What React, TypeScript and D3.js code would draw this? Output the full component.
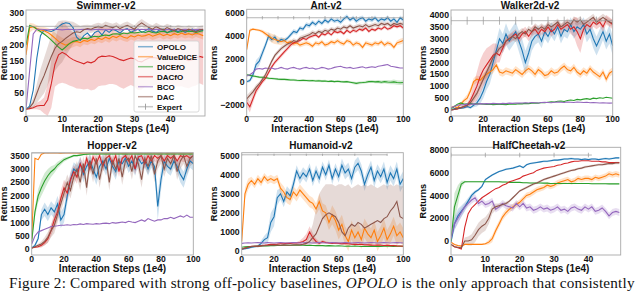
import React from 'react';
import * as d3 from 'd3';

const methods = ['OPOLO', 'ValueDICE', 'DICEfO', 'DACfO', 'BCO', 'DAC'];
const colors = ['#1f77b4', '#ff7f0e', '#2ca02c', '#d62728', '#9467bd', '#8c564b'];

// x grids (1e4 interaction steps)
const steps50 = d3.range(0, 50);
const steps100 = d3.range(0, 101, 2);

// ---- Swimmer-v2
const swimmerOPOLO = [0,10,60,160,230,248,245,243,248,258, 266,270,268,255,225,215,230,238,225,240, 245,232,248,240,250,245,238,248,252,240, 246,250,240,245,252,244,240,248,250,238, 245,250,242,248,240,246,250,244,248,246];
const swimmerValueDICE = [170,255,258,252,248,245,240,232,222,212, 205,200,205,210,212,208,215,212,218,215, 222,218,225,220,228,224,230,225,222,230, 226,232,228,230,234,228,232,236,230,234, 230,236,232,238,233,236,232,238,234,230];
const swimmerValueDICEStd = [20,15,10,10,10,12,14,16,18,18, 18,18,16,16,14,14,12,12,12,12, 12,12,12,12,12,12,12,12,12,12, 12,12,12,12,12,12,12,12,12,12, 12,12,12,12,12,12,12,12,12,12];
const swimmerDICEfO = [200,262,258,250,243,235,226,216,205,194, 185,195,205,212,215,218,222,220,225,228, 226,230,232,230,235,236,234,238,236,240, 238,240,242,240,244,240,238,242,244,240, 242,245,240,243,246,242,244,240,243,245];
const swimmerDACfO = [0,2,5,10,12,12,30,80,140,170, 178,172,162,155,150,146,142,148,145,150, 162,166,165,167,165,160,155,152,156,160, 158,150,148,155,160,162,160,158,162,166, 165,160,155,158,156,152,155,160,165,162];
const swimmerDACfOStd = [0,2,5,10,15,25,50,75,70,90, 95,92,88,85,85,82,80,84,86,88, 90,92,90,88,86,84,86,88,86,84, 88,90,86,84,86,88,84,86,88,84, 86,88,84,86,88,86,84,86,84,86];
const swimmerBCO = [0,120,235,250,250,249,248,249,250,249, 248,249,250,249,248,249,250,249,248,249, 250,249,248,249,250,249,248,249,250,249, 248,249,250,249,248,249,250,249,248,249, 250,249,248,249,250,249,248,249,250,249];
const swimmerDAC = [0,5,20,50,80,105,135,165,190,205, 212,222,230,238,242,240,248,252,250,255, 258,255,262,258,255,260,252,258,262,256, 250,262,270,262,255,250,258,252,248,255, 250,245,252,248,244,250,246,242,248,250];
const swimmerDACStd = [0,5,15,30,45,55,60,65,70,70, 65,55,45,35,25,20,15,12,12,12, 12,12,12,12,12,12,12,12,12,12, 12,12,12,12,12,12,12,12,12,12, 12,12,12,12,12,12,12,12,12,12];

// ---- Ant-v2
const antOPOLO = [0,100,600,1500,1800,2500,3200,4000,3700,3900, 3500,3700,3600,3800,4100,4400,4300,4700,4600,5000, 4900,5200,5000,5300,5100,5400,5200,5500,5300,5400, 5200,5500,5700,5400,5600,5300,5500,5600,5300,5500, 5400,5600,5300,5500,5400,5600,5300,5500,5200,5600, 5400];
const antOPOLOStd = [100,150,300,400,400,350,300,300,250,250, 200,220,200,180,200,220,200,200,180,200, 220,200,200,180,200,220,200,200,180,200, 220,200,200,180,200,220,200,200,180,200, 220,200,200,180,200,220,200,200,180,200, 200];
const antValueDICE = [2800,4500,4600,4550,4500,4400,4200,4000,3800,3700, 3600,3500,3600,3400,3500,3300,3400,3200,3300,3400, 3300,3100,3400,3300,3500,3200,3300,3500,3400,3600, 3400,3300,3600,3500,3200,3400,3300,3000,3400,3300, 3200,3400,3300,3500,3200,3400,3300,3000,3400,3500, 3600];
const antValueDICEStd = [200,150,100,100,100,150,200,300,400,400, 350,300,250,200,200,200,200,200,200,200, 200,200,200,200,200,200,200,200,200,200, 200,200,200,200,200,200,200,200,200,200, 200,200,200,200,200,200,200,200,200,250, 250];
const antDICEfO = [600,550,500,450,400,380,350,300,280,250, 220,200,200,180,150,150,120,100,120,100, 80,100,60,80,50,60,20,50,0,30, 0,-20,0,-50,-100,-150,-100,-80,-50,0, 20,-20,0,-50,0,-30,-50,-20,-80,-100, -80];
const antDICEfOStd = [100,100,100,100,100,100,100,100,100,100, 100,100,100,100,100,100,100,100,100,100, 100,100,100,100,100,100,100,100,100,100, 100,100,100,100,120,120,120,120,120,120, 120,120,150,150,150,180,180,200,200,200, 200];
const antDACfO = [-1800,-2200,-1500,-800,-400,0,300,800,1300,1700, 2000,2300,2600,2900,3200,3400,3500,3600,3800,3700, 3900,4000,4100,3900,4200,4100,4300,4100,4400,4300, 4400,4200,4500,4300,4500,4400,4600,4500,4700,4400, 4600,4500,4700,4600,4800,4600,4700,4900,4800,4900, 4700];
const antDACfOStd = [400,500,400,300,250,200,200,200,200,200, 200,200,200,200,200,150,150,150,150,150, 150,150,150,150,150,150,150,150,150,150, 150,150,150,150,150,150,150,150,150,150, 150,150,150,150,150,150,150,150,150,150, 150];
const antBCO = [500,600,800,1100,1150,1100,1200,1150,1200,1100, 1150,1250,1150,1100,1200,1250,1150,1100,1200,1250, 1150,1200,1100,1150,1250,1200,1100,1150,1250,1300, 1350,1250,1200,1250,1150,1200,1250,1300,1200,1250, 1300,1250,1350,1400,1450,1500,1350,1300,1250,1200, 1200];
const antDAC = [-1500,-1200,-900,-500,-200,200,600,1200,1800,2300, 2600,2900,3100,3300,3400,3600,3500,3800,3900,4000, 4100,4300,4200,4400,4300,4500,4400,4600,4500,4700, 4600,4800,4700,4900,4700,4800,4900,4800,5000,4800, 4900,5000,4900,5100,5000,5100,4900,5100,5000,5100, 5000];
const antDACStd = [300,300,250,250,200,200,200,200,200,200, 200,200,200,200,200,200,200,200,200,200, 200,200,200,200,200,200,200,200,200,200, 200,200,200,200,200,200,200,200,200,200, 200,200,200,200,200,200,200,200,200,200, 200];

// ---- Walker2d-v2
const walkerOPOLO = [0,50,100,80,100,150,100,200,300,500, 800,1200,1500,2000,2500,3000,2800,3200,2900,3100, 3300,2900,2500,2000,2400,2900,3100,3200,2900,3300, 3100,3400,3200,3500,3100,3400,3300,3600,3300,3500, 3400,3600,3200,3400,3000,2700,3000,3300,2900,3200, 2700];
const walkerOPOLOStd = [20,30,40,40,50,60,60,80,150,250, 300,350,400,400,400,450,400,450,400,400, 400,450,500,500,450,400,350,350,300,300, 300,300,300,300,300,300,300,300,300,300, 300,300,350,350,400,400,400,350,350,400, 400];
const walkerValueDICE = [100,150,100,250,400,500,800,1200,1300,1250, 1400,1500,1600,1700,1900,1600,1550,1650,1600,1550, 1700,1600,1500,1650,1750,1650,1500,1700,1600,1450, 1500,1650,1550,1600,1750,1850,1700,1650,1800,1600, 1500,1650,1550,1750,1600,1500,1400,1600,1300,1550, 1650];
const walkerValueDICEStd = [50,50,50,80,100,150,150,150,150,150, 150,150,150,150,150,150,150,150,150,150, 150,150,150,150,150,150,150,150,150,150, 150,150,150,150,150,150,150,150,150,150, 150,150,150,150,150,150,150,150,150,150, 150];
const walkerDICEfO = [50,150,250,300,250,250,280,250,270,260, 250,240,250,230,240,250,240,230,250,260, 250,270,260,280,270,290,300,290,320,310, 330,350,340,370,380,360,400,420,400,450, 430,460,480,450,500,480,520,500,540,520, 500];
const walkerDACfO = [0,20,50,100,150,200,400,700,1000,1400, 1700,1900,2100,2300,2400,2300,2600,2900,3000,3100, 3200,3000,3200,3300,3100,3300,3400,3200,3400,3300, 3500,3300,3400,3600,3400,3500,3600,3400,3500,3300, 3000,3400,3600,3500,3700,3600,3700,3500,3800,3700, 3600];
const walkerDACfOStd = [0,10,20,40,60,100,200,400,600,700, 700,700,600,500,400,300,200,200,200,200, 200,200,200,200,200,200,200,200,200,200, 200,200,200,200,200,200,200,200,400,600, 600,400,200,200,200,200,200,200,200,200, 200];
const walkerBCO = [100,150,200,220,230,250,240,260,250,270, 260,270,260,280,270,260,280,270,290,280, 300,290,300,310,300,320,310,300,320,330, 320,310,330,340,330,320,340,330,320,340, 330,320,330,310,320,310,300,310,300,290, 300];
const walkerDAC = [0,30,60,100,150,200,300,500,700,1000, 1300,1600,1900,2200,2400,2600,2700,2900,3000,3100, 3000,3200,3300,3200,3400,3300,3500,3400,3500,3400, 3600,3500,3600,3700,3500,3600,3700,3600,3800,3700, 3800,3600,3700,3800,3900,3700,3800,3900,3800,3700, 3650];
const walkerDACStd = [20,30,40,60,80,100,150,150,150,150, 150,150,150,150,150,150,150,150,150,150, 150,150,150,150,150,150,150,150,150,150, 150,150,150,150,150,150,150,150,150,150, 150,150,150,150,150,150,150,150,150,150, 150];

// ---- Hopper-v2
const hopperOPOLO = [50,150,400,1300,1500,1300,1550,1400,1700,1100, 1300,2000,2600,3000,2900,3200,2800,3100,3300,3000, 2700,3100,3300,3000,3400,3100,2900,3300,3200,3400, 3100,3300,3000,3400,3200,3300,3000,3300,3100,1600, 2600,3300,3100,3000,3300,3100,2800,2600,3000,3300, 3200];
const hopperOPOLOStd = [20,50,100,200,250,250,250,250,300,300, 300,300,300,250,250,250,300,250,250,250, 300,250,250,250,250,250,300,250,250,250, 250,250,250,250,250,250,250,250,300,500, 400,250,250,250,250,250,300,300,300,250, 250];
const hopperValueDICE = [400,3400,3350,3550,3600,3600,3600,3610,3600,3590, 3600,3600,3610,3600,3600,3590,3600,3600,3610,3600, 3600,3600,3590,3600,3610,3600,3600,3600,3590,3600, 3600,3610,3600,3600,3600,3590,3600,3600,3610,3600, 3600,3600,3590,3600,3600,3610,3600,3600,3600,3590, 3600];
const hopperDICEfO = [300,1400,2000,2300,2550,2750,2900,3000,3150,3250, 3350,3400,3450,3500,3500,3520,3540,3550,3560,3560, 3560,3560,3560,3560,3560,3560,3560,3560,3560,3560, 3560,3560,3560,3560,3560,3560,3560,3560,3560,3560, 3560,3560,3560,3560,3560,3560,3560,3560,3560,3560, 3560];
const hopperDICEfOStd = [50,200,250,300,300,250,200,150,120,100, 80,60,50,40,30,30,30,30,30,30, 30,30,30,30,30,30,30,30,30,30, 30,30,30,30,30,30,30,30,30,30, 30,30,30,30,30,30,30,30,30,30, 30];
const hopperDACfO = [50,80,100,150,250,400,700,1100,1400,1900, 2300,2100,2600,2900,2700,3200,2900,3400,3000,3450, 3200,3500,3100,3400,3500,3200,3500,2900,3400,3500, 3300,3500,3000,3450,3500,3200,3500,3300,3500,3400, 3500,3300,3500,3400,3500,3300,3500,3450,3500,3400, 3500];
const hopperDACfOStd = [20,30,50,80,100,150,200,300,300,300, 300,300,250,250,250,250,250,200,200,200, 200,200,200,200,200,200,200,200,200,200, 200,200,200,200,200,200,200,200,200,200, 200,200,200,200,200,200,200,200,200,200, 200];
const hopperBCO = [200,500,650,700,750,800,850,870,880,900, 900,920,900,930,920,950,930,960,950,940, 960,950,970,980,960,1000,980,1000,1020,1000, 1050,1020,1000,1050,1100,1050,1150,1100,1050,1100, 1100,1150,1150,1200,1150,1200,1250,1200,1280,1200, 1200];
const hopperDAC = [50,100,150,200,300,450,700,900,1300,1700, 2100,2500,2200,2700,3000,2500,3200,2300,3300,2800, 3400,2600,3200,3400,2500,3300,3000,3400,2700,3300, 3400,2900,3500,3200,2600,3400,3100,3500,2800,3300, 3500,3000,3400,3200,3500,2900,3300,3500,3100,3400, 3500];
const hopperDACStd = [20,40,60,100,150,200,250,300,300,300, 300,300,300,300,300,300,300,300,300,300, 300,300,300,300,300,300,300,300,300,300, 300,300,300,300,300,300,300,300,300,300, 300,300,300,300,300,300,300,300,300,300, 300];

// ---- Humanoid-v2
const humanoidOPOLO = [100,120,150,200,230,250,400,600,700,1500, 1800,2800,3000,2600,3100,2900,3500,4200,3800,4100, 3900,4300,3700,4200,3800,4400,4000,4500,3800,4300, 3900,4500,4100,4300,3800,4400,4600,4200,3500,4000, 4400,3700,4200,3900,4300,3600,4100,3800,4300,3500, 3800];
const humanoidOPOLOStd = [50,50,50,50,50,80,150,200,300,500, 500,400,300,300,300,300,300,300,300,300, 300,300,300,300,300,300,300,300,300,300, 300,350,350,350,350,350,350,350,350,350, 350,350,350,350,400,400,400,400,400,400, 400];
const humanoidValueDICE = [500,3000,3500,3700,3500,3800,3600,3900,3700,3800, 3700,3800,3300,3100,2800,2700,3100,2900,3200,3000, 2800,2600,2500,2200,2600,2100,2000,1500,1900,1600, 1100,1400,800,500,1100,700,1000,600,1200,900, 700,1100,500,800,1200,600,900,1300,800,1000, 700];
const humanoidValueDICEStd = [100,300,300,200,200,200,200,200,200,200, 200,200,300,300,300,300,300,300,300,300, 300,300,300,300,400,400,400,400,500,500, 500,500,500,500,500,500,500,500,500,500, 500,500,500,500,500,500,500,500,500,500, 500];
const humanoidDICEfO = [200,220,230,240,250,250,260,270,270,280, 280,290,290,300,300,300,300,310,300,300, 290,300,290,280,290,280,270,280,270,260, 270,260,250,260,250,260,250,240,250,240, 250,240,250,240,250,260,250,240,250,250, 250];
const humanoidDACfO = [100,150,200,250,250,250,280,300,320,350, 350,360,380,380,400,400,420,420,450,500, 600,1000,700,500,400,500,450,420,400,420, 400,380,400,380,360,350,340,350,330,320, 310,300,310,300,290,300,280,290,270,260, 250];
const humanoidDACfOStd = [30,30,30,30,30,30,30,30,30,40, 40,40,40,40,50,50,50,50,100,200, 300,300,250,150,100,80,60,50,50,50, 50,50,50,50,50,50,50,50,50,50, 50,50,50,50,50,50,50,50,50,50, 50];
const humanoidBCO = [400,420,430,420,430,440,430,420,440,430, 420,430,440,430,420,430,440,430,420,430, 440,430,420,430,440,430,420,430,440,430, 420,430,440,430,420,430,440,430,420,430, 440,430,420,430,440,430,420,430,440,430, 420];
const humanoidDAC = [100,150,200,230,250,260,270,280,290,300, 300,310,300,320,310,300,320,330,320,350, 400,500,700,900,1300,1700,1900,2000,1900,1800, 1500,1000,800,1200,1400,1300,1500,1400,1200,1300, 1400,1500,1600,1500,1700,1800,2100,2300,2600,1800, 1700];
const humanoidDACLow = [80,130,180,210,230,240,250,260,270,280, 280,290,280,300,290,280,300,310,300,320, 300,300,350,400,400,400,450,400,400,350, 350,300,350,400,350,300,350,400,350,300, 350,400,350,300,350,400,450,400,350,400, 400];
const humanoidDACHigh = [120,170,220,250,270,280,290,300,310,320, 320,330,320,340,330,320,340,350,340,380, 500,900,1400,2200,3000,3300,3500,3500,3500,3400, 3500,3500,3400,3500,3300,3400,3500,3400,3500,3400, 3500,3400,3300,3400,3500,3400,3500,3400,3500,3400, 3400];

// ---- HalfCheetah-v2
const cheetahOPOLO = [-100,1500,2200,2600,3000,3500,4000,4300,4500,4800, 5400,5600,5800,5950,6100,6200,6300,6350,6400,6500, 6600,6450,6700,6800,6850,6900,6950,7000,7000,7050, 7100,7100,7150,7200,7200,7250,7200,7200,7150,7200, 7150,7200,7200,7150,7200,7250,7200,7250,7300,7300];
const cheetahOPOLOStd = [100,600,600,500,400,300,200,150,100,100, 100,80,80,80,80,80,80,80,80,80, 80,80,80,80,80,80,80,80,80,80, 80,80,80,80,80,80,80,80,80,80, 80,80,80,80,80,80,80,80,80,80];
const cheetahValueDICE = [-100,-300,-400,-450,-300,-300,-300,-300,-300,-300, -250,-100,200,900,1500,2100,2500,2800,3000,3200, 3400,3700,4000,4100,4300,4500,4600,4700,4900,4800, 4900,5100,5200,5300,5400,5200,5300,5500,5400,5500, 5500,5400,5600,5500,5600,5700,5900,5800,5900,5800];
const cheetahValueDICEStd = [50,50,50,50,50,50,50,50,50,50, 100,200,300,300,300,300,300,300,250,250, 250,250,250,250,250,250,250,250,250,250, 250,250,250,250,250,250,250,250,250,250, 250,250,250,250,250,250,250,250,250,250];
const cheetahDICEfO = [0,3000,4000,5000,5200,5200,5200,5200,5200,5200, 5200,5200,5200,5200,5200,5180,5180,5150,5150,5150, 5150,5120,5120,5100,5100,5100,5100,5080,5080,5050, 5050,5050,5050,5050,5050,5050,5050,5050,5050,5050, 5050,5030,5030,5030,5030,5030,5020,5020,5020,5020];
const cheetahDICEfOStd = [300,1200,900,300,100,50,40,40,40,40, 40,40,40,40,40,40,40,40,40,40, 40,40,40,40,40,40,40,40,40,40, 40,40,40,40,40,40,40,40,40,40, 40,40,40,40,40,40,40,40,40,40];
const cheetahDACfO = [-300,-500,-600,-700,1200,2400,2900,3200,3500,3800, 4000,4200,4400,4600,4700,4900,5000,5200,5300,5400, 5500,5700,5800,5900,6000,6200,6300,6400,6450,6500, 6550,6650,6700,6800,6850,6950,7000,7000,7050,7050, 7050,7000,7000,7000,6950,6950,6900,6900,6900,6900];
const cheetahBCO = [200,1500,2000,2500,3000,3300,3600,3800,3300,3500, 3200,3300,3500,2800,3000,3300,3100,3000,2900,3300, 3000,3300,2900,3000,2700,2800,3000,2800,2900,2700, 2800,3000,2700,2800,2600,2900,3000,2800,2700,3000, 2800,3000,2600,2700,2900,2600,2200,2500,2600,2500];
const cheetahBCOStd = [100,500,500,400,300,300,300,300,300,300, 300,300,300,300,300,300,300,300,300,300, 300,300,300,300,300,300,300,300,300,300, 300,300,300,300,300,300,300,300,300,300, 300,300,300,300,300,300,300,300,300,300];
const cheetahDAC = [-300,-500,-550,-600,0,0,100,500,1000,1300, 1500,2000,2800,3000,3100,3200,3300,3500,3800,4100, 4400,4550,4700,4850,5000,5100,5250,5400,5500,5600, 5700,5800,5900,6000,6100,6200,6250,6350,6400,6500, 6550,6600,6650,6700,6700,6750,6800,6800,6850,6850];
const cheetahDACStd = [50,50,50,100,300,400,500,600,600,600, 600,500,400,300,200,150,150,120,100,100, 100,100,100,100,100,100,100,100,100,100, 100,100,100,100,100,100,100,100,100,100, 100,100,100,100,100,100,100,100,100,100];

// expert returns per task
const expertReturn = [259, 5600, 3760, 3600, 5050, 7550];
const expertErr = [3, 150, 170, 10, 60, 200];

type Band = number[] | { lo: number[]; hi: number[] } | null;

interface Panel {
  title: string;
  steps: number[];
  series: number[][];
  bands: Band[];
  expertIdx: number;
  expertEnd: number;
  xDomain: [number, number];
  yDomain: [number, number];
  xTicks: number[];
  yTicks: number[];
  l: number; r: number; t: number; b: number;
  titleX: number; titleY: number; tickY: number; labelY: number; ylabelX: number;
}

const panels: Panel[] = [
  {
    title: 'Swimmer-v2', steps: steps50,
    series: [swimmerOPOLO, swimmerValueDICE, swimmerDICEfO, swimmerDACfO, swimmerBCO, swimmerDAC],
    bands: [null, swimmerValueDICEStd, null, swimmerDACfOStd, null, swimmerDACStd],
    expertIdx: 0, expertEnd: 49,
    xDomain: [0, 49.5], yDomain: [-21, 310], xTicks: [0, 10, 20, 30, 40], yTicks: [0, 50, 100, 150, 200, 250, 300],
    l: 26, r: 205, t: 10, b: 116, titleX: 106, titleY: 9, tickY: 122, labelY: 132.3, ylabelX: 4,
  },
  {
    title: 'Ant-v2', steps: steps100,
    series: [antOPOLO, antValueDICE, antDICEfO, antDACfO, antBCO, antDAC],
    bands: [antOPOLOStd, antValueDICEStd, antDICEfOStd, antDACfOStd, null, antDACStd],
    expertIdx: 1, expertEnd: 100,
    xDomain: [0, 100], yDomain: [-3070, 6340], xTicks: [0, 20, 40, 60, 80, 100], yTicks: [-2000, 0, 2000, 4000, 6000],
    l: 246.7, r: 403.3, t: 9.3, b: 116.7, titleX: 326, titleY: 9, tickY: 122, labelY: 132.3, ylabelX: 213.5,
  },
  {
    title: 'Walker2d-v2', steps: steps100,
    series: [walkerOPOLO, walkerValueDICE, walkerDICEfO, walkerDACfO, walkerBCO, walkerDAC],
    bands: [walkerOPOLOStd, walkerValueDICEStd, null, walkerDACfOStd, null, walkerDACStd],
    expertIdx: 2, expertEnd: 100,
    xDomain: [0, 100], yDomain: [-250, 4210], xTicks: [0, 20, 40, 60, 80, 100], yTicks: [0, 500, 1000, 1500, 2000, 2500, 3000, 3500, 4000],
    l: 451, r: 612.7, t: 10, b: 116, titleX: 530, titleY: 9, tickY: 122, labelY: 132.3, ylabelX: 423,
  },
  {
    title: 'Hopper-v2', steps: steps100,
    series: [hopperOPOLO, hopperValueDICE, hopperDICEfO, hopperDACfO, hopperBCO, hopperDAC],
    bands: [hopperOPOLOStd, null, hopperDICEfOStd, hopperDACfOStd, null, hopperDACStd],
    expertIdx: 3, expertEnd: 100,
    xDomain: [0, 100], yDomain: [-210, 3610], xTicks: [0, 20, 40, 60, 80, 100], yTicks: [0, 500, 1000, 1500, 2000, 2500, 3000, 3500],
    l: 31.7, r: 193.3, t: 152.7, b: 255, titleX: 112, titleY: 149, tickY: 261.5, labelY: 271.6, ylabelX: 4,
  },
  {
    title: 'Humanoid-v2', steps: steps100,
    series: [humanoidOPOLO, humanoidValueDICE, humanoidDICEfO, humanoidDACfO, humanoidBCO, humanoidDAC],
    bands: [humanoidOPOLOStd, humanoidValueDICEStd, null, humanoidDACfOStd, null, { lo: humanoidDACLow, hi: humanoidDACHigh }],
    expertIdx: 4, expertEnd: 90,
    xDomain: [0, 100], yDomain: [-210, 5160], xTicks: [0, 20, 40, 60, 80, 100], yTicks: [0, 1000, 2000, 3000, 4000, 5000],
    l: 241.7, r: 403.3, t: 152.7, b: 255, titleX: 321, titleY: 149, tickY: 261.5, labelY: 271.6, ylabelX: 213.5,
  },
  {
    title: 'HalfCheetah-v2', steps: steps50,
    series: [cheetahOPOLO, cheetahValueDICE, cheetahDICEfO, cheetahDACfO, cheetahBCO, cheetahDAC],
    bands: [cheetahOPOLOStd, cheetahValueDICEStd, cheetahDICEfOStd, null, cheetahBCOStd, cheetahDACStd],
    expertIdx: 5, expertEnd: 41,
    xDomain: [0, 49.4], yDomain: [-1230, 8230], xTicks: [0, 10, 20, 30, 40], yTicks: [0, 2000, 4000, 6000, 8000],
    l: 451, r: 620.7, t: 147.3, b: 255, titleX: 529, titleY: 149, tickY: 261.5, labelY: 271.6, ylabelX: 423,
  },
];

const sans = '"Liberation Sans", Arial, Helvetica, sans-serif';
const fmt = (v: number) => String(v).replace('-', '\u2212');

function Chart({ p, idx }: { p: Panel; idx: number }) {
  const x = d3.scaleLinear().domain(p.xDomain).range([p.l, p.r]);
  const y = d3.scaleLinear().domain(p.yDomain).range([p.b, p.t]);
  const clipId = `clip-${idx}`;
  const line = d3.line<number>().x((_, i) => x(p.steps[i])).y((d) => y(d));
  const ex = expertReturn[p.expertIdx];
  const ee = expertErr[p.expertIdx];
  const expertTicks = d3.range(0, p.expertEnd + 0.01, 10);

  return (
    <g>
      <defs>
        <clipPath id={clipId}>
          <rect x={p.l} y={p.t} width={p.r - p.l} height={p.b - p.t} />
        </clipPath>
      </defs>
      <g clipPath={`url(#${clipId})`}>
        {p.series.map((s, k) => {
          const band = p.bands[k];
          if (!band) return null;
          let lo: number[], hi: number[];
          if (Array.isArray(band)) {
            lo = s.map((v, i) => v - band[i]);
            hi = s.map((v, i) => v + band[i]);
          } else {
            lo = band.lo;
            hi = band.hi;
          }
          const area = d3.area<number>()
            .x((_, i) => x(p.steps[i]))
            .y0((_, i) => y(lo[i]))
            .y1((_, i) => y(hi[i]));
          return <path key={`b${k}`} d={area(s) || ''} fill={colors[k]} opacity={0.22} />;
        })}
        {p.series.map((s, k) => (
          <path key={`l${k}`} d={line(s) || ''} fill="none" stroke={colors[k]} strokeWidth={1.1} />
        ))}
        <line x1={x(0)} x2={x(p.expertEnd)} y1={y(ex)} y2={y(ex)} stroke="#9a9a9a" strokeWidth={0.9} opacity={0.8} />
        {expertTicks.map((t) => (
          <line key={t} x1={x(t)} x2={x(t)} y1={y(ex - ee)} y2={y(ex + ee)} stroke="#9a9a9a" strokeWidth={0.9} opacity={0.8} />
        ))}
      </g>
      <rect x={p.l} y={p.t} width={p.r - p.l} height={p.b - p.t} fill="none" stroke="#a8a8a8" strokeWidth={0.9} />
      {p.yTicks.map((t) => (
        <text key={`y${t}`} x={p.l - 2} y={y(t)} dy="0.35em" textAnchor="end" fontFamily={sans} fontWeight="bold" fontSize={8.7} fill="#111">
          {fmt(t)}
        </text>
      ))}
      {p.xTicks.map((t) => (
        <text key={`x${t}`} x={x(t)} y={p.tickY} textAnchor="middle" fontFamily={sans} fontWeight="bold" fontSize={8.6} fill="#111">
          {fmt(t)}
        </text>
      ))}
      <text x={p.titleX} y={p.titleY} textAnchor="middle" fontFamily={sans} fontWeight="bold" fontSize={10} fill="#111">
        {p.title}
      </text>
      <text x={(p.l + p.r) / 2} y={p.labelY} textAnchor="middle" fontFamily={sans} fontWeight="bold" fontSize={10} fill="#111">
        Interaction Steps (1e4)
      </text>
      <text transform={`translate(${p.ylabelX},${(p.t + p.b) / 2}) rotate(-90)`} dy="0.35em" textAnchor="middle" fontFamily={sans} fontWeight="bold" fontSize={9.2} fill="#111">
        Returns
      </text>
    </g>
  );
}

function Legend() {
  const bx = 134, by = 41, bw = 65, bh = 71;
  const labels = [...methods, 'Expert'];
  return (
    <g>
      <rect x={bx} y={by} width={bw} height={bh} rx={2} fill="#fff" fillOpacity={0.8} stroke="#d0d0d0" strokeWidth={0.8} />
      {labels.map((m, i) => {
        const yy = by + 5.7 + i * 10;
        const c = i < 6 ? colors[i] : '#9a9a9a';
        return (
          <g key={m}>
            <line x1={bx + 4} x2={bx + 19} y1={yy} y2={yy} stroke={c} strokeWidth={1.5} opacity={0.55} />
            {i === 6 && <line x1={bx + 11.5} x2={bx + 11.5} y1={yy - 3} y2={yy + 3} stroke={c} strokeWidth={0.9} />}
            <text x={bx + 23} y={yy} dy="0.35em" fontFamily={sans} fontWeight="bold" fontSize={8} fill="#111">
              {m}
            </text>
          </g>
        );
      })}
    </g>
  );
}

export default function App() {
  return (
    <svg width={640} height={292} style={{ position: 'absolute', left: 0, top: 0, background: '#fff' }}>
      <rect width={640} height={292} fill="#fff" />
      {panels.map((p, i) => (
        <Chart key={p.title} p={p} idx={i} />
      ))}
      <Legend />
      <text x={9} y={287.5} fontFamily='"Liberation Serif", "Times New Roman", serif' fontSize={15.2} letterSpacing={0.2} fill="#111">
        Figure 2: Compared with strong off-policy baselines, <tspan fontStyle="italic">OPOLO</tspan> is the only approach that consistently
      </text>
    </svg>
  );
}
